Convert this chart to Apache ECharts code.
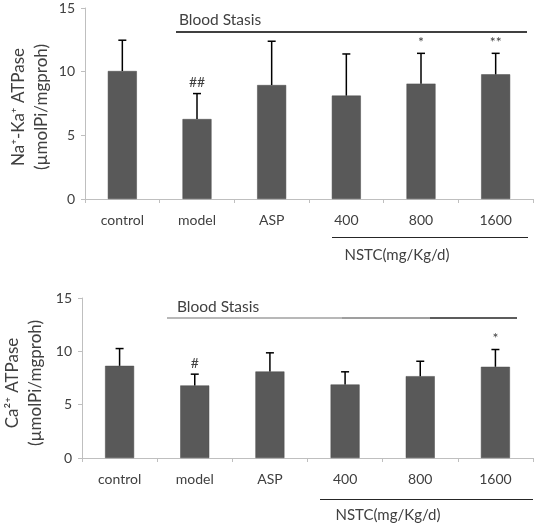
<!DOCTYPE html>
<html><head><meta charset="utf-8">
<script src="https://cdn.jsdelivr.net/npm/echarts@6/dist/echarts.min.js"></script>
<style>html,body{margin:0;padding:0;background:#fff}#c{width:537px;height:525px}</style>
</head><body><div id="c"></div>
<script>
const categories = ['control','model','ASP','400','800','1600'];
const naKMeans = [10.05, 6.28, 8.95, 8.12, 9.06, 9.79];
const naKSD    = [2.42, 2.0, 3.44, 3.27, 2.38, 1.65];
const naKMarks = ['', '##', '', '', '*', '**'];
const caMeans  = [8.64, 6.8, 8.11, 6.89, 7.67, 8.55];
const caSD     = [1.62, 1.06, 1.75, 1.19, 1.4, 1.62];
const caMarks  = ['', '#', '', '', '', '*'];
const yTicks = {min: 0, max: 15, interval: 5};

const FONT = 'Lato';
const TXT = '#404040';
const AX = '#bfbfbf';

function errSeries(idx, means, sds, marks) {
  return {
    type: 'custom', xAxisIndex: idx, yAxisIndex: idx, z: 5,
    data: means.map((m, i) => [i, m, sds[i]]),
    renderItem: function (params, api) {
      const x = api.value(0), m = api.value(1), sd = api.value(2);
      const p0 = api.coord([x, m]);
      const p1 = api.coord([x, m + sd]);
      const ch = [
        {type: 'line', shape: {x1: p0[0], y1: p0[1], x2: p1[0], y2: p1[1]}, style: {stroke: '#000', lineWidth: 1.5}},
        {type: 'line', shape: {x1: p1[0] - 4, y1: p1[1], x2: p1[0] + 4, y2: p1[1]}, style: {stroke: '#000', lineWidth: 1.5}}
      ];
      const t = marks[params.dataIndex];
      if (t) {
        ch.push({type: 'text', style: {text: t, x: p1[0], y: p1[1] - 4, align: 'center', verticalAlign: 'bottom',
          fill: TXT, font: '14px ' + FONT}});
      }
      return {type: 'group', children: ch};
    }
  };
}

function xAx(idx) {
  return {
    type: 'category', gridIndex: idx, data: categories,
    axisLine: {lineStyle: {color: AX, width: 1}},
    axisTick: {show: true, length: 4, lineStyle: {color: AX}},
    axisLabel: {color: TXT, fontFamily: FONT, fontSize: 14, margin: 14}
  };
}
function yAx(idx) {
  return {
    type: 'value', gridIndex: idx, min: yTicks.min, max: yTicks.max, interval: yTicks.interval,
    axisLine: {show: true, lineStyle: {color: AX, width: 1}},
    axisTick: {show: true, length: 4, lineStyle: {color: AX}},
    splitLine: {show: false},
    axisLabel: {color: TXT, fontFamily: FONT, fontSize: 14, margin: 10}
  };
}

const chart = echarts.init(document.getElementById('c'), null, {renderer: 'canvas'});
const txt = (text, x, y, size, rot) => ({
  type: 'text', x: x, y: y, rotation: rot || 0,
  style: {text: text, fill: TXT, font: size + 'px ' + FONT, align: 'center', verticalAlign: 'middle'}
});
const seg = (x1, y1, x2, color, w) => ({
  type: 'line', shape: {x1: x1, y1: y1, x2: x2, y2: y1}, style: {stroke: color, lineWidth: w || 1.5}
});

chart.setOption({
  animation: false,
  grid: [
    {left: 85, top: 8, width: 448, height: 191},
    {left: 82, top: 298, width: 451, height: 160}
  ],
  xAxis: [xAx(0), xAx(1)],
  yAxis: [yAx(0), yAx(1)],
  series: [
    {type: 'bar', xAxisIndex: 0, yAxisIndex: 0, data: naKMeans, barWidth: 29,
     itemStyle: {color: '#595959', borderColor: '#4a4a4a', borderWidth: 0.5}},
    errSeries(0, naKMeans, naKSD, naKMarks),
    {type: 'bar', xAxisIndex: 1, yAxisIndex: 1, data: caMeans, barWidth: 29,
     itemStyle: {color: '#595959', borderColor: '#4a4a4a', borderWidth: 0.5}},
    errSeries(1, caMeans, caSD, caMarks)
  ],
  graphic: [
    txt('Blood Stasis', 220, 20, 15.5),
    seg(176, 32, 527, '#000', 1.5),
    seg(332, 237.5, 528, '#262626', 1),
    txt('NSTC(mg/Kg/d)', 397, 255, 15),
    txt('Na\u207A-Ka\u207A ATPase', 19, 107, 17, Math.PI / 2),
    txt('(\u00B5molPi/mgproh)', 42, 107, 17, Math.PI / 2),

    txt('Blood Stasis', 218, 307, 15.5),
    seg(167, 318, 342, '#a0a0a0', 1.5),
    seg(342, 318, 430, '#7f7f7f', 1.5),
    seg(430, 318, 517, '#262626', 1.5),
    seg(320, 499.5, 533, '#262626', 1),
    txt('NSTC(mg/Kg/d)', 388, 515, 15),
    txt('Ca\u00B2\u207A ATPase', 13, 383, 17, Math.PI / 2),
    txt('(\u00B5molPi/mgproh)', 36, 383, 17, Math.PI / 2)
  ]
});
</script></body></html>
